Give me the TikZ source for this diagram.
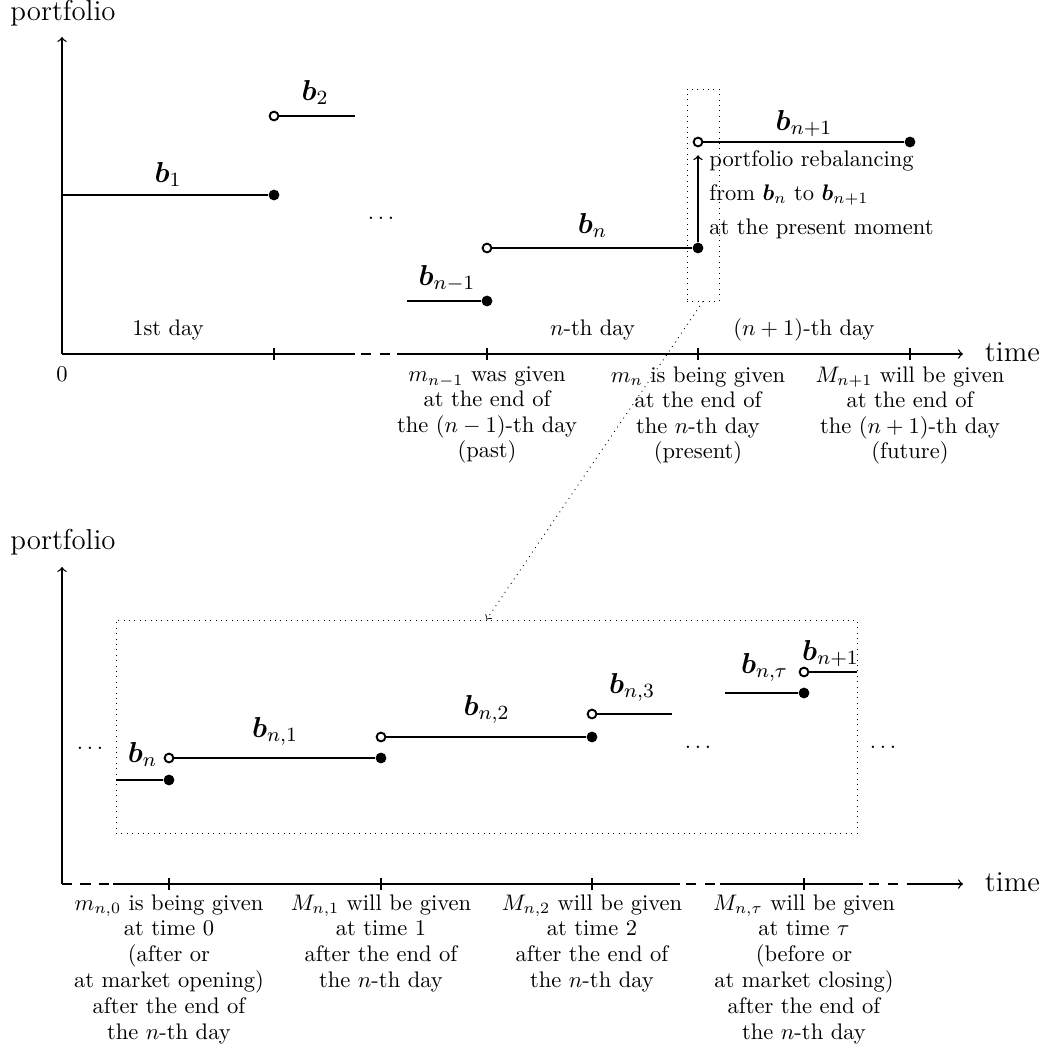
\RequirePackage{fix-cm}
\documentclass[tikz,border=0pt]{standalone}
\usepackage{amsmath}
\usetikzlibrary{fit}
\newcommand{\pfb}{\boldsymbol{b}}
\begin{document}
\begin{tikzpicture}[x=0.444pt, y=-0.444pt,
  axisline/.style={line width=0.6pt},
  seg/.style={line width=0.9pt},
  fdot/.style={circle, fill=black, inner sep=0pt, minimum size=4.8pt},
  odot/.style={circle, draw=black, fill=white, line width=0.85pt, inner sep=0pt, minimum size=3.9pt},
  big/.style={font=\fontsize{12.8}{15}\selectfont},
  body/.style={font=\fontsize{10}{11.2}\selectfont},
  bodyb/.style={font=\fontsize{10}{11.5}\selectfont},
  lab/.style={body, align=center, anchor=north, inner sep=0pt},
  labb/.style={bodyb, align=center, anchor=north, inner sep=0pt},
  blab/.style={big, anchor=base, inner sep=0pt},
  ell/.style={body, anchor=base, inner sep=0pt},
  dashseg/.style={axisline, dash pattern=on 4.4pt off 4pt, dash phase=5.8pt},
  frame/.style={draw, dotted, line width=0.4pt, inner sep=0pt}]
\useasboundingbox (0,0) rectangle (1047,1055);

% ================= top diagram =================
\coordinate (O1) at (62,354);
\coordinate (Y1) at (62,37);
\coordinate (A1) at (355,354);
\coordinate (A2) at (397,354);
\coordinate (X1) at (963,354);
\draw[axisline,->] (O1) -- (Y1);
\draw[axisline] (O1) -- (A1);
\draw[dashseg] (A1) -- (A2);
\draw[axisline,->] (A2) -- (X1);
\foreach \x in {274,487,698,910} \draw[axisline] (\x,348) -- (\x,360);
\node[big, anchor=base] (pf1) at (63,21) {portfolio};
\node[big, anchor=base west] (t1) at (977,361) {time};

\node[body, anchor=base] (d1) at (168,335) {1st day};
\node[body, anchor=base] (dn) at (592.5,335) {$n$-th day};
\node[body, anchor=base] (dn1) at (804,335) {$(n+1)$-th day};

\node[lab] (l0) at (62,366) {0};
\node[lab] (la) at (487,366.5) {$m_{n-1}$ was given\\at the end of\\the $(n-1)$-th day\\(past)};
\node[lab] (lb) at (698,366.5) {$m_n$ is being given\\at the end of\\the $n$-th day\\(present)};
\node[lab] (lc) at (910,366.5) {$M_{n+1}$ will be given\\at the end of\\the $(n+1)$-th day\\(future)};

% segments
\coordinate (s1) at (62,195);
\node[fdot] (f1) at (274,195) {};
\draw[seg] (s1) -- (f1);
\node[blab] (b1) at (168,182) {$\pfb_1$};

\node[odot] (o2) at (274,116) {};
\coordinate (e2) at (355,116);
\draw[seg] (o2) -- (e2);
\node[blab] (b2) at (315,100) {$\pfb_2$};

\node[ell] (dots1) at (381,219) {$\ldots$};

\coordinate (s3) at (407,301);
\node[fdot] (f3) at (487,301) {};
\draw[seg] (s3) -- (f3);
\node[blab] (b3) at (447,285) {$\pfb_{n-1}$};

\node[odot] (o4) at (487,248) {};
\node[fdot] (f4) at (698,248) {};
\draw[seg] (o4) -- (f4);
\node[blab] (b4) at (592.5,233) {$\pfb_n$};

\node[odot] (o5) at (698,142) {};
\node[fdot] (f5) at (910,142) {};
\draw[seg] (o5) -- (f5);
\node[blab] (b5) at (804,130) {$\pfb_{n+1}$};

\draw[axisline,->, shorten >=3.5pt] (f4) -- (o5);
\node[body, anchor=base west, inner sep=0pt] (r1) at (709,166) {portfolio rebalancing};
\node[body, anchor=base west, inner sep=0pt] (r2) at (709,200) {from $\pfb_n$ to $\pfb_{n+1}$};
\node[body, anchor=base west, inner sep=0pt] (r3) at (709,234) {at the present moment};

% zoom frames
\node[frame, fit={(687,89) (719,301)}] (z1) {};
\node[frame, fit={(116,620) (857,833)}] (z2) {};
\draw[dotted, line width=0.4pt, ->] (z1.south) -- (z2.north);

% ================= bottom diagram =================
\coordinate (O2) at (62,884);
\coordinate (Y2) at (62,567);
\coordinate (B1) at (113,884);
\coordinate (B2) at (680,884);
\coordinate (B3) at (720,884);
\coordinate (B4) at (863,884);
\coordinate (B5) at (907,884);
\coordinate (X2) at (963,884);
\draw[axisline,->] (O2) -- (Y2);
\draw[axisline, dash pattern=on 4.6pt off 3.6pt] (O2) -- (B1);
\draw[axisline] (B1) -- (B2);
\draw[dashseg] (B2) -- (B3);
\draw[axisline] (B3) -- (B4);
\draw[dashseg] (B4) -- (B5);
\draw[axisline,->] (B5) -- (X2);
\foreach \x in {169,381,592,804} \draw[axisline] (\x,878) -- (\x,890);
\node[big, anchor=base] (pf2) at (63,549) {portfolio};
\node[big, anchor=base west] (t2) at (977,891) {time};

\node[labb] (ma) at (169,894) {$m_{n,0}$ is being given\\at time 0\\(after or\\at market opening)\\after the end of\\the $n$-th day};
\node[labb] (mb) at (381,894) {$M_{n,1}$ will be given\\at time 1\\after the end of\\the $n$-th day};
\node[labb] (mc) at (592,894) {$M_{n,2}$ will be given\\at time 2\\after the end of\\the $n$-th day};
\node[labb] (md) at (804,894) {$M_{n,\tau}$ will be given\\at time $\tau$\\(before or\\at market closing)\\after the end of\\the $n$-th day};

\node[ell] (dots2) at (90,749) {$\ldots$};
\node[ell] (dots3) at (698,748) {$\ldots$};
\node[ell] (dots4) at (883,748) {$\ldots$};

\coordinate (u0) at (116,780);
\node[fdot] (g0) at (169,780) {};
\draw[seg] (u0) -- (g0);
\node[blab] (c0) at (142.5,762) {$\pfb_n$};

\node[odot] (p1) at (169,758) {};
\node[fdot] (g1) at (381,758) {};
\draw[seg] (p1) -- (g1);
\node[blab] (c1) at (275,737) {$\pfb_{n,1}$};

\node[odot] (p2) at (381,737) {};
\node[fdot] (g2) at (592,737) {};
\draw[seg] (p2) -- (g2);
\node[blab] (c2) at (486.5,715) {$\pfb_{n,2}$};

\node[odot] (p3) at (592,714) {};
\coordinate (u3) at (672,714);
\draw[seg] (p3) -- (u3);
\node[blab] (c3) at (632,693) {$\pfb_{n,3}$};

\coordinate (u4) at (725,693);
\node[fdot] (g4) at (804,693) {};
\draw[seg] (u4) -- (g4);
\node[blab] (c4) at (764.5,673) {$\pfb_{n,\tau}$};

\node[odot] (p5) at (804,672) {};
\coordinate (u5) at (857,672);
\draw[seg] (p5) -- (u5);
\node[blab] (c5) at (830.5,660) {$\pfb_{n+1}$};
\end{tikzpicture}
\end{document}
